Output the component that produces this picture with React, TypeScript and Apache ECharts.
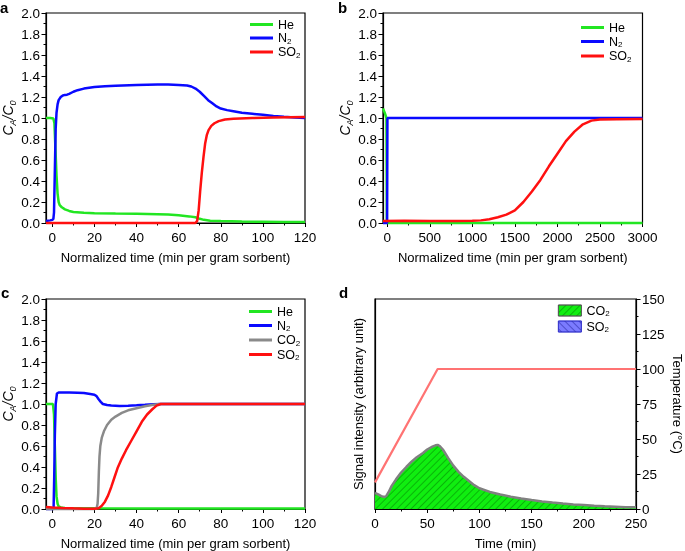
import React, { useEffect, useRef } from 'react';
import * as echarts from 'echarts';

const FONT = "'Liberation Sans', Arial, Helvetica, sans-serif";

// ---------- Panel a ----------
const aHe = [[-3,1.0],[-1,1.0],[0.5,0.995],[1,0.95],[1.5,0.7],[2,0.45],[2.5,0.28],[3,0.2],[3.5,0.17],[4.5,0.15],[6,0.13],[8,0.115],[10,0.105],[15,0.097],[20,0.093],[30,0.09],[40,0.088],[50,0.084],[55,0.08],[60,0.073],[65,0.063],[68,0.055],[70,0.04],[72,0.03],[75,0.022],[80,0.018],[90,0.014],[100,0.012],[110,0.01],[120,0.01]];
const aN2 = [[-3,0.02],[-1,0.025],[0,0.03],[0.5,0.04],[0.8,0.1],[1.2,0.5],[1.6,0.9],[2,1.05],[2.5,1.13],[3,1.17],[4,1.2],[5,1.215],[6,1.22],[7,1.222],[8,1.23],[10,1.25],[12,1.265],[15,1.28],[20,1.295],[25,1.302],[30,1.308],[40,1.315],[50,1.32],[55,1.318],[60,1.315],[64,1.31],[66,1.3],[68,1.28],[70,1.25],[72,1.21],[74,1.17],[76,1.14],[78,1.11],[80,1.09],[83,1.075],[86,1.065],[90,1.05],[95,1.04],[100,1.03],[105,1.02],[110,1.012],[115,1.005],[120,1.0]];
const aSO2 = [[-3,0],[68,0],[68.8,0.02],[69.5,0.12],[70.2,0.3],[71,0.48],[71.8,0.63],[72.6,0.76],[73.4,0.84],[74.2,0.885],[75.5,0.925],[77,0.95],[79,0.97],[82,0.985],[86,0.993],[95,1.0],[105,1.005],[120,1.01]];

// ---------- Panel b ----------
const bHe = [[-50,1.09],[-30,1.05],[-10,1.0],[-5,0.0],[3000,0.0]];
const bN2 = [[-50,0.0],[-2,0.0],[0,0.5],[2,1.0],[3000,1.0]];
const bSO2 = [[-50,0.02],[200,0.022],[500,0.02],[800,0.02],[1000,0.022],[1100,0.025],[1200,0.035],[1300,0.055],[1400,0.08],[1500,0.12],[1600,0.2],[1700,0.3],[1800,0.41],[1900,0.54],[2000,0.66],[2100,0.78],[2200,0.87],[2300,0.94],[2400,0.975],[2500,0.985],[2700,0.987],[3000,0.99]];

// ---------- Panel c ----------
const cHe = [[-3,1.0],[0.3,1.0],[0.8,0.9],[1.2,0.6],[1.6,0.3],[2,0.12],[2.5,0.05],[3,0.025],[4,0.015],[6,0.01],[10,0.008],[20,0.006],[40,0.005],[80,0.004],[120,0.004]];
const cN2 = [[-3,0.0],[0.6,0.0],[0.9,0.3],[1.2,0.7],[1.6,1.0],[2.2,1.1],[3,1.11],[8,1.11],[12,1.108],[15,1.105],[18,1.095],[20,1.088],[21,1.075],[22,1.045],[23,1.02],[24,1.0],[26,0.99],[28,0.985],[32,0.982],[36,0.984],[40,0.987],[44,0.992],[48,0.998],[52,1.0],[120,1.0]];
const cCO2 = [[-3,0.0],[20,0.0],[21,0.005],[21.5,0.05],[21.8,0.15],[22.1,0.35],[22.4,0.5],[22.8,0.6],[23.5,0.68],[24.5,0.74],[26,0.8],[28,0.85],[30,0.88],[33,0.915],[36,0.94],[40,0.96],[44,0.978],[48,0.992],[51,1.0],[120,1.0]];
const cSO2 = [[-3,0.02],[0,0.015],[5,0.01],[10,0.006],[15,0.003],[20,0.002],[22,0.008],[23.5,0.03],[25,0.07],[26.5,0.13],[28,0.21],[29.5,0.3],[31,0.39],[33,0.48],[35,0.56],[37.5,0.65],[40,0.74],[42.5,0.83],[45,0.9],[47.5,0.95],[49.5,0.985],[51.5,1.0],[53,1.0],[120,1.0]];

// ---------- Panel d ----------
const dCO2 = [[0,11.5],[3,10.5],[6,9.2],[9,8.6],[11,9.5],[13,12],[16,16.5],[20,21],[25,26],[30,30],[35,33.8],[40,37],[46,40],[50,42.5],[55,44.5],[58,45.5],[60,45.8],[62,45],[65,42.5],[70,36.5],[75,31],[80,26.5],[85,23],[90,20],[95,17],[100,14.8],[110,12.2],[120,10.3],[130,8.8],[140,7.5],[150,6.4],[160,5.4],[170,4.6],[180,3.9],[190,3.3],[200,2.8],[210,2.3],[220,1.9],[230,1.6],[240,1.3],[250,1.2]];
const dSO2: number[][] = [];
const dTemp = [[0,19],[60,100],[250,100]];

// ---------- Tick values ----------
const ticksAC = [0, 20, 40, 60, 80, 100, 120];
const minorAC = [10, 30, 50, 70, 90, 110];
const ticksB = [0, 500, 1000, 1500, 2000, 2500, 3000];
const minorB = [250, 750, 1250, 1750, 2250, 2750];

const GREEN = '#22e622';
const BLUE = '#0a0aff';
const RED = '#ff1010';
const GREY = '#8a8a8a';

const legendNames: Record<string, string> = {
  He_a: '{n|He}', N2_a: '{n|N}{s|2}', SO2_a: '{n|SO}{s|2}',
  He_b: '{n|He}', N2_b: '{n|N}{s|2}', SO2_b: '{n|SO}{s|2}',
  He_c: '{n|He}', N2_c: '{n|N}{s|2}', CO2_c: '{n|CO}{s|2}', SO2_c: '{n|SO}{s|2}',
  CO2_d: '{n|CO}{s|2}', SO2_d: '{n|SO}{s|2}',
};

const legendRich = {
  n: { fontSize: 12.5, fontFamily: FONT, color: '#000', lineHeight: 14 },
  s: { fontSize: 8, fontFamily: FONT, color: '#000', lineHeight: 14, verticalAlign: 'bottom' },
};

const nameRichY = {
  i: { fontSize: 14, fontFamily: FONT, fontStyle: 'italic', color: '#000', lineHeight: 18 },
  s: { fontSize: 9, fontFamily: FONT, fontStyle: 'italic', color: '#000', lineHeight: 18, verticalAlign: 'bottom' },
};

const tickLabel = { color: '#000', fontSize: 13.5, fontFamily: FONT };
const axisTitle = { color: '#000', fontSize: 13, fontFamily: FONT };
const blackLine = { lineStyle: { color: '#000', width: 1.2 } };

function xMain(gridIndex: number, min: number, max: number, ticks: number[], name: string) {
  return {
    type: 'value', gridIndex, min, max, position: 'bottom',
    axisLine: { show: true, onZero: false, ...blackLine },
    axisTick: { show: true, customValues: ticks, length: 4, inside: false, lineStyle: { color: '#000', width: 1 } },
    axisLabel: { show: true, customValues: ticks, margin: 7, formatter: (v: number) => String(v), ...tickLabel },
    splitLine: { show: false },
    name, nameLocation: 'middle', nameGap: 28, nameTextStyle: axisTitle,
  };
}
function xMinor(gridIndex: number, min: number, max: number, minors: number[]) {
  return {
    type: 'value', gridIndex, min, max, position: 'bottom', offset: 0,
    axisLine: { show: false },
    axisTick: { show: true, customValues: minors, length: 2.5, lineStyle: { color: '#000', width: 1 } },
    axisLabel: { show: false },
    splitLine: { show: false },
  };
}
function yRatio(gridIndex: number) {
  return {
    type: 'value', gridIndex, min: 0, max: 2, interval: 0.2,
    axisLine: { show: true, onZero: false, ...blackLine },
    axisTick: { show: true, length: 4.5, lineStyle: { color: '#000', width: 1 } },
    minorTick: { show: true, splitNumber: 2, length: 2.5, lineStyle: { color: '#000', width: 1 } },
    axisLabel: { margin: 6, formatter: (v: number) => v.toFixed(1), ...tickLabel },
    splitLine: { show: false },
    minorSplitLine: { show: false },
    name: '{i|C}{s|A}{i|/C}{s|0}', nameLocation: 'middle', nameGap: 23,
    nameTextStyle: { rich: nameRichY },
  };
}

function line(name: string, xi: number, yi: number, data: number[][], color: string, width = 2.5) {
  return {
    type: 'line', name, xAxisIndex: xi, yAxisIndex: yi, data,
    showSymbol: false, symbol: 'none', clip: false,
    lineStyle: { color, width }, itemStyle: { color },
    emphasis: { disabled: true }, silent: true,
  };
}

function lineLegend(left: number, top: number, data: string[], gap: number) {
  return {
    orient: 'vertical', left, top, data, itemGap: gap, itemWidth: 23, itemHeight: 3,
    icon: 'rect', selectedMode: false,
    formatter: (n: string) => legendNames[n] ?? n,
    textStyle: { rich: legendRich },
    padding: 0,
  };
}

const gridStyle = { show: true, borderColor: '#000', borderWidth: 1.2, backgroundColor: 'transparent' };

const option = {
  animation: false,
  grid: [
    { left: 46, top: 13, width: 259, height: 210, ...gridStyle },
    { left: 383, top: 13, width: 259.5, height: 210, ...gridStyle },
    { left: 46, top: 299, width: 259, height: 210, ...gridStyle },
    { left: 375, top: 299, width: 261, height: 210, ...gridStyle },
  ],
  xAxis: [
    xMain(0, -3, 120, ticksAC, 'Normalized time (min per gram sorbent)'),
    xMain(1, -50, 3000, ticksB, 'Normalized time (min per gram sorbent)'),
    xMain(2, -3, 120, ticksAC, 'Normalized time (min per gram sorbent)'),
    {
      type: 'value', gridIndex: 3, min: 0, max: 250, interval: 50, position: 'bottom',
      axisLine: { show: true, onZero: false, ...blackLine },
      axisTick: { show: true, length: 4, lineStyle: { color: '#000', width: 1 } },
      minorTick: { show: true, splitNumber: 2, length: 2.5, lineStyle: { color: '#000', width: 1 } },
      axisLabel: { margin: 7, ...tickLabel },
      splitLine: { show: false }, minorSplitLine: { show: false },
      name: 'Time (min)', nameLocation: 'middle', nameGap: 28, nameTextStyle: axisTitle,
    },
    xMinor(0, -3, 120, minorAC),
    xMinor(1, -50, 3000, minorB),
    xMinor(2, -3, 120, minorAC),
  ],
  yAxis: [
    yRatio(0),
    yRatio(1),
    yRatio(2),
    {
      type: 'value', gridIndex: 3, min: 0, max: 150, interval: 25, position: 'left',
      axisLine: { show: true, onZero: false, ...blackLine },
      axisTick: { show: false }, axisLabel: { show: false },
      splitLine: { show: false },
      name: 'Signal intensity (arbitrary unit)', nameLocation: 'middle', nameGap: 10,
      nameTextStyle: axisTitle,
    },
    {
      type: 'value', gridIndex: 3, min: 0, max: 150, interval: 25, position: 'right',
      axisLine: { show: true, onZero: false, ...blackLine },
      axisTick: { show: true, length: 4.5, lineStyle: { color: '#000', width: 1 } },
      minorTick: { show: true, splitNumber: 2, length: 2.5, lineStyle: { color: '#000', width: 1 } },
      axisLabel: { margin: 6, ...tickLabel },
      splitLine: { show: false }, minorSplitLine: { show: false },
      name: 'Temperature (°C)', nameLocation: 'middle', nameGap: 35, nameRotate: -90,
      nameTextStyle: axisTitle,
    },
  ],
  legend: [
    lineLegend(250, 18, ['He_a', 'N2_a', 'SO2_a'], 0.5),
    lineLegend(581, 21, ['He_b', 'N2_b', 'SO2_b'], 1),
    lineLegend(249, 305, ['He_c', 'N2_c', 'CO2_c', 'SO2_c'], 1),
    {
      orient: 'vertical', left: 558, top: 304, itemGap: 2.5, itemWidth: 23, itemHeight: 11,
      icon: 'rect', selectedMode: false, padding: 0,
      data: [
        { name: 'CO2_d', itemStyle: { borderColor: '#555', borderWidth: 0.8 } },
        { name: 'SO2_d', itemStyle: { borderColor: '#3333cc', borderWidth: 0.8 } },
      ],
      formatter: (n: string) => legendNames[n] ?? n,
      textStyle: { rich: legendRich },
    },
  ],
  graphic: [
    { type: 'text', left: 0, top: 0, style: { text: 'a', font: `bold 15px ${FONT}`, fill: '#000' } },
    { type: 'text', left: 338, top: 0, style: { text: 'b', font: `bold 15px ${FONT}`, fill: '#000' } },
    { type: 'text', left: 1, top: 285, style: { text: 'c', font: `bold 15px ${FONT}`, fill: '#000' } },
    { type: 'text', left: 339, top: 285, style: { text: 'd', font: `bold 15px ${FONT}`, fill: '#000' } },
  ],
  series: [
    line('He_a', 0, 0, aHe, GREEN),
    line('N2_a', 0, 0, aN2, BLUE),
    line('SO2_a', 0, 0, aSO2, RED),
    line('He_b', 1, 1, bHe, GREEN),
    line('N2_b', 1, 1, bN2, BLUE),
    line('SO2_b', 1, 1, bSO2, RED),
    line('He_c', 2, 2, cHe, GREEN),
    line('N2_c', 2, 2, cN2, BLUE),
    line('CO2_c', 2, 2, cCO2, GREY),
    line('SO2_c', 2, 2, cSO2, RED),
    {
      type: 'line', name: 'CO2_d', xAxisIndex: 3, yAxisIndex: 3, data: dCO2,
      showSymbol: false, symbol: 'none', silent: true,
      lineStyle: { color: '#808080', width: 2.5 },
      itemStyle: {
        color: '#10ee10',
        decal: { symbol: 'rect', symbolSize: 1, dashArrayX: [1, 0], dashArrayY: [1, 4], rotation: -Math.PI / 4, color: 'rgba(0,110,0,0.45)' },
      },
      areaStyle: { color: '#10ee10', opacity: 1 },
    },
    {
      type: 'line', name: 'SO2_d', xAxisIndex: 3, yAxisIndex: 3, data: dSO2,
      showSymbol: false, symbol: 'none', silent: true,
      lineStyle: { color: '#3333cc', width: 1 },
      itemStyle: {
        color: '#7b7bff',
        decal: { symbol: 'rect', symbolSize: 1, dashArrayX: [1, 0], dashArrayY: [1, 4], rotation: Math.PI / 4, color: 'rgba(20,20,140,0.45)' },
      },
      areaStyle: { color: '#7b7bff', opacity: 1 },
    },
    line('Temp_d', 3, 4, dTemp, '#ff7373', 2.2),
  ],
};

export default function App() {
  const ref = useRef<HTMLDivElement>(null);
  useEffect(() => {
    const chart = echarts.init(ref.current!, null, { renderer: 'svg' });
    chart.setOption(option as any);
    return () => chart.dispose();
  }, []);
  return <div ref={ref} style={{ position: 'fixed', left: 0, top: 0, width: 685, height: 551 }} />;
}
